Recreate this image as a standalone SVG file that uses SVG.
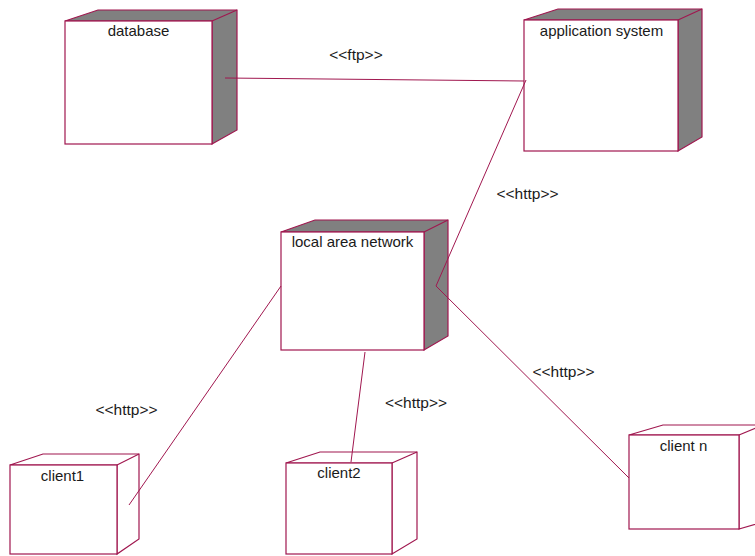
<svg xmlns="http://www.w3.org/2000/svg" width="755" height="556" viewBox="0 0 755 556">
<style>
.f{fill:#fff;stroke:#a0174f;stroke-width:1.2}
.g{fill:#808080;stroke:#a0174f;stroke-width:1.2;stroke-linejoin:miter}
.w{fill:#fff;stroke:#a0174f;stroke-width:1.2}
.c{fill:none;stroke:#a0174f;stroke-width:1}
text{font-family:"Liberation Sans",Arial,sans-serif;font-size:15px;fill:#1a1a1a;text-anchor:middle}
text.l{font-size:15.5px}
</style>
<rect width="755" height="556" fill="#fff"/>
<g id="database">
<polygon class="g" points="65,21 98,10 237,10 237,130 212,144 212,21"/>
<line class="g" x1="212" y1="21" x2="237" y2="10"/>
<rect class="f" x="65" y="21" width="147" height="123"/>
<text x="138.5" y="36">database</text>
</g>
<g id="application-system">
<polygon class="g" points="524,20 558,9 702,9 702,137 678,151 678,20"/>
<line class="g" x1="678" y1="20" x2="702" y2="9"/>
<rect class="f" x="524" y="20" width="154" height="131"/>
<text x="601.5" y="36">application system</text>
</g>
<g id="local-area-network">
<polygon class="g" points="281,232 315,220 448,220 448,336 424,350 424,232"/>
<line class="g" x1="424" y1="232" x2="448" y2="220"/>
<rect class="f" x="281" y="232" width="143" height="118"/>
<text x="352.5" y="247">local area network</text>
</g>
<g id="client1">
<polygon class="w" points="10,465 43,454 139,454 139,539 117,554 117,465"/>
<line class="w" x1="117" y1="465" x2="139" y2="454"/>
<rect class="f" x="10" y="465" width="107" height="89"/>
<text x="62.5" y="481">client1</text>
</g>
<g id="client2">
<polygon class="w" points="286,463 320,452 417,452 417,539 392,554 392,463"/>
<line class="w" x1="392" y1="463" x2="417" y2="452"/>
<rect class="f" x="286" y="463" width="106" height="91"/>
<text x="339" y="478">client2</text>
</g>
<g id="client-n">
<polygon class="w" points="629,435 663,425 770,425 770,520 739,529 739,435"/>
<line class="w" x1="739" y1="435" x2="770" y2="422"/>
<rect class="f" x="629" y="435" width="110" height="94"/>
<text x="683.5" y="451">client n</text>
</g>
<g id="connectors">
<line class="c" x1="225" y1="78" x2="524" y2="81"/>
<polyline class="c" points="526,80 436,286 629,478"/>
<line class="c" x1="281" y1="286" x2="129" y2="505"/>
<line class="c" x1="365" y1="352" x2="351" y2="462"/>
<text class="l" x="356" y="60">&lt;&lt;ftp&gt;&gt;</text>
<text class="l" x="527.5" y="199">&lt;&lt;http&gt;&gt;</text>
<text class="l" x="126.5" y="415">&lt;&lt;http&gt;&gt;</text>
<text class="l" x="416" y="408">&lt;&lt;http&gt;&gt;</text>
<text class="l" x="563.5" y="377">&lt;&lt;http&gt;&gt;</text>
</g>
</svg>
